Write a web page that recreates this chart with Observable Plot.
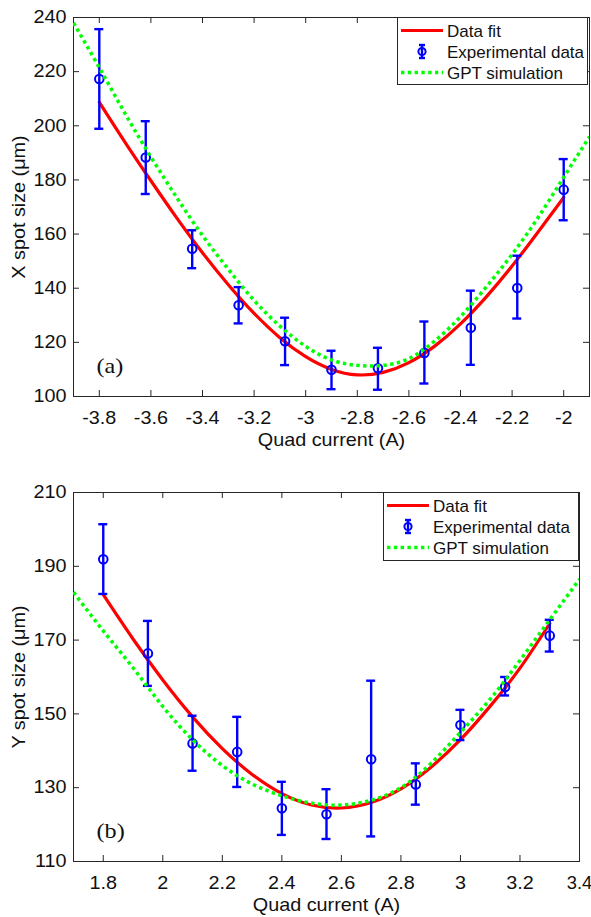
<!DOCTYPE html>
<html><head><meta charset="utf-8">
<script src="https://cdn.jsdelivr.net/npm/d3@7"></script>
<script src="https://cdn.jsdelivr.net/npm/@observablehq/plot@0.6"></script>
<style>
body{margin:0;background:#fff;}
#wrap{position:relative;width:591px;height:917px;overflow:hidden;}
#wrap > svg{display:block;}
.legend{position:absolute;}
</style></head><body><div id="wrap"></div>
<script>
// ---------- Panel (a): X spot size ----------
const expXA = [-3.8, -3.62, -3.44, -3.26, -3.08, -2.9, -2.72, -2.54, -2.36, -2.18, -2.0];
const expYA = [217.3, 188.3, 154.6, 133.7, 120.4, 109.9, 110.4, 116.1, 125.4, 140.1, 176.4];
const expLoA = [198.9, 174.8, 147.4, 127.0, 111.6, 102.7, 102.5, 104.8, 111.7, 128.8, 165.1];
const expHiA = [235.7, 201.7, 161.4, 140.4, 129.1, 116.9, 118.0, 127.7, 139.1, 152.0, 187.7];
const fitXA = [-3.8, -3.7, -3.6, -3.5, -3.4, -3.3, -3.2, -3.1, -3.0, -2.9, -2.8, -2.7, -2.6, -2.5, -2.4, -2.3, -2.2, -2.1, -2.0];
const fitYA = [208.7, 193.9, 179.7, 166.0, 153.1, 141.3, 130.7, 121.7, 114.7, 110.0, 108.0, 108.9, 112.5, 118.6, 126.8, 136.8, 148.2, 160.7, 173.5];
const simXA = [-3.9, -3.8, -3.7, -3.6, -3.5, -3.4, -3.3, -3.2, -3.1, -3.0, -2.9, -2.8, -2.7, -2.6, -2.5, -2.4, -2.3, -2.2, -2.1, -2.0, -1.9];
const simYA = [238, 221.5, 204.5, 188.5, 173.5, 159.5, 147, 135.5, 126, 118.5, 113.5, 111.5, 111.5, 114, 120.5, 129.5, 140.5, 152.5, 166, 181, 196];
const xTicksA = [-3.8, -3.6, -3.4, -3.2, -3, -2.8, -2.6, -2.4, -2.2, -2];
const yTicksA = [100, 120, 140, 160, 180, 200, 220, 240];

// ---------- Panel (b): Y spot size ----------
const expXB = [1.8, 1.95, 2.1, 2.25, 2.4, 2.55, 2.7, 2.85, 3.0, 3.15, 3.3];
const expYB = [191.9, 166.4, 142.0, 139.7, 124.4, 122.8, 137.7, 130.9, 147.0, 157.3, 171.2];
const expLoB = [182.5, 157.6, 134.6, 130.2, 117.2, 116.1, 116.8, 125.4, 142.9, 155.0, 166.9];
const expHiB = [201.4, 175.2, 149.5, 149.2, 131.6, 129.6, 159.0, 136.6, 151.1, 160.0, 175.5];
const fitXB = [1.8, 1.9, 2.0, 2.1, 2.2, 2.3, 2.4, 2.5, 2.6, 2.7, 2.8, 2.9, 3.0, 3.1, 3.2, 3.3];
const fitYB = [182.3, 170.3, 159.2, 149.2, 140.6, 133.6, 128.4, 125.3, 124.5, 126.0, 129.7, 135.5, 143.0, 152.1, 162.4, 174.5];
const simXB = [1.7, 1.8, 1.9, 2.0, 2.1, 2.2, 2.3, 2.4, 2.5, 2.6, 2.7, 2.8, 2.9, 3.0, 3.1, 3.2, 3.3, 3.4];
const simYB = [183, 172.5, 162.5, 152, 143, 136, 131, 127.8, 125.8, 125.3, 126.6, 130, 136.5, 145, 154, 164.5, 175.5, 186.5];
const xTicksB = [1.8, 2, 2.2, 2.4, 2.6, 2.8, 3, 3.2, 3.4];
const yTicksB = [110, 130, 150, 170, 190, 210];

const xLabel = "Quad current (A)";
const legendLabels = ["Data fit", "Experimental data", "GPT simulation"];

const AX = "#262626", BLUE = "#0000ff", RED = "#ff0000", GREEN = "#00ff00";
const FONT = "'Liberation Sans', Arial, Helvetica, sans-serif";

function panel(o) {
  const plotH = o.height - o.marginTop - o.marginBottom;
  const plotW = 591 - o.marginLeft - o.marginRight;
  return Plot.plot({
    width: 591, height: o.height,
    marginTop: o.marginTop, marginBottom: o.marginBottom,
    marginLeft: o.marginLeft, marginRight: o.marginRight,
    style: {fontFamily: FONT, fontSize: "18px", color: "#111", background: "white", overflow: "visible"},
    x: {domain: o.xDomain},
    y: {domain: o.yDomain},
    marks: [
      Plot.frame({stroke: AX, strokeWidth: 1}),
      Plot.tickX(o.xTicks, {x: d => d, insetTop: plotH - 6, stroke: AX}),
      Plot.tickX(o.xTicks, {x: d => d, insetBottom: plotH - 6, stroke: AX}),
      Plot.tickY(o.yTicks, {y: d => d, insetRight: plotW - 6, stroke: AX}),
      Plot.tickY(o.yTicks, {y: d => d, insetLeft: plotW - 6, stroke: AX}),
      Plot.axisX(o.xTicks, {tickSize: 0, tickPadding: 15, tickFormat: d => String(d), label: null, fill: "#111"}),
      Plot.axisY(o.yTicks, {tickSize: 0, tickPadding: 7, tickFormat: d => String(d), label: null, fill: "#111"}),
      Plot.text([xLabel], {text: d => d, frameAnchor: "bottom", textAnchor: "middle", lineAnchor: "top", dy: 37, fill: "#111"}),
      Plot.text([o.yLabel], {text: d => d, frameAnchor: "left", textAnchor: "middle", lineAnchor: "top", rotate: -90, dx: -61, fill: "#111"}),
      Plot.text([o.tag], {text: d => d, frameAnchor: "bottom-left", textAnchor: "start", lineAnchor: "bottom", dx: 23, dy: -24, fontFamily: "'Liberation Serif', 'Times New Roman', serif", fontSize: 22, fill: "#111"}),
      Plot.line(o.fitX, {x: d => d, y: (d, i) => o.fitY[i], stroke: RED, strokeWidth: 3.2, curve: "natural"}),
      Plot.ruleX(o.expX, {x: d => d, y1: (d, i) => o.expLo[i], y2: (d, i) => o.expHi[i], stroke: BLUE, strokeWidth: 2.4}),
      Plot.ruleY(o.expX, {x1: d => d, x2: d => d, y: (d, i) => o.expLo[i], insetLeft: -4.5, insetRight: -4.5, stroke: BLUE, strokeWidth: 2.4}),
      Plot.ruleY(o.expX, {x1: d => d, x2: d => d, y: (d, i) => o.expHi[i], insetLeft: -4.5, insetRight: -4.5, stroke: BLUE, strokeWidth: 2.4}),
      Plot.dot(o.expX, {x: d => d, y: (d, i) => o.expY[i], r: 4.3, stroke: BLUE, strokeWidth: 2, fill: "none"}),
      Plot.line(o.simX, {x: d => d, y: (d, i) => o.simY[i], stroke: GREEN, strokeWidth: 3.5, strokeDasharray: "3.4 3.4", strokeLinecap: "butt", curve: "natural", clip: true})
    ]
  });
}

// widen axis text slightly (Helvetica-like proportions of the original), but never past the page edge
function widenTexts(svg) {
  svg.querySelectorAll("text").forEach(t => {
    const tr = t.getAttribute("transform");
    if (!tr) return;
    t.setAttribute("transform", tr + " scale(1.1,1)");
    const r = t.getBoundingClientRect();
    if (r.right > 590) t.setAttribute("transform", tr + " scale(1.02,1)");
  });
}

function legend(left, top, width, height) {
  const rows = [13.5, 34.5, 55.5];
  const s = d3.create("svg").attr("class", "legend")
    .attr("width", width).attr("height", height)
    .style("left", left + "px").style("top", top + "px");
  s.append("rect").attr("x", 0.5).attr("y", 0.5).attr("width", width - 1).attr("height", height - 1)
    .attr("fill", "white").attr("stroke", AX).attr("stroke-width", 1);
  s.append("line").attr("x1", 4).attr("x2", 46).attr("y1", rows[0]).attr("y2", rows[0])
    .attr("stroke", RED).attr("stroke-width", 3.2);
  const cx = 25, cy = rows[1];
  s.append("line").attr("x1", cx).attr("x2", cx).attr("y1", cy - 6.5).attr("y2", cy + 6.5).attr("stroke", BLUE).attr("stroke-width", 2.4);
  s.append("line").attr("x1", cx - 3).attr("x2", cx + 3).attr("y1", cy - 6.5).attr("y2", cy - 6.5).attr("stroke", BLUE).attr("stroke-width", 2.4);
  s.append("line").attr("x1", cx - 3).attr("x2", cx + 3).attr("y1", cy + 6.5).attr("y2", cy + 6.5).attr("stroke", BLUE).attr("stroke-width", 2.4);
  s.append("circle").attr("cx", cx).attr("cy", cy).attr("r", 3.6).attr("fill", "none").attr("stroke", BLUE).attr("stroke-width", 2);
  s.append("line").attr("x1", 4).attr("x2", 46).attr("y1", rows[2]).attr("y2", rows[2])
    .attr("stroke", GREEN).attr("stroke-width", 3.5).attr("stroke-dasharray", "3.4 3.4").attr("stroke-linecap", "butt");
  legendLabels.forEach((lab, i) => {
    s.append("text").attr("x", 50).attr("y", rows[i] + 6).text(lab)
      .attr("font-family", FONT).attr("font-size", 17).attr("fill", "#111");
  });
  return s.node();
}

const wrap = document.getElementById("wrap");
const svgA = panel({
  height: 466, marginTop: 17, marginBottom: 70, marginLeft: 73, marginRight: 2,
  xDomain: [-3.9, -1.9], yDomain: [100, 240], xTicks: xTicksA, yTicks: yTicksA,
  yLabel: "X spot size (\u03bcm)", tag: "(a)",
  expX: expXA, expY: expYA, expLo: expLoA, expHi: expHiA,
  fitX: fitXA, fitY: fitYA, simX: simXA, simY: simYA
});
const svgB = panel({
  height: 451, marginTop: 26, marginBottom: 56, marginLeft: 73, marginRight: 12,
  xDomain: [1.7, 3.4], yDomain: [110, 210], xTicks: xTicksB, yTicks: yTicksB,
  yLabel: "Y spot size (\u03bcm)", tag: "(b)",
  expX: expXB, expY: expYB, expLo: expLoB, expHi: expHiB,
  fitX: fitXB, fitY: fitYB, simX: simXB, simY: simYB
});
wrap.appendChild(svgA);
wrap.appendChild(svgB);
widenTexts(svgA);
widenTexts(svgB);
wrap.appendChild(legend(397, 17, 191, 68));
wrap.appendChild(legend(383, 492, 196, 69));
</script>
</body></html>
